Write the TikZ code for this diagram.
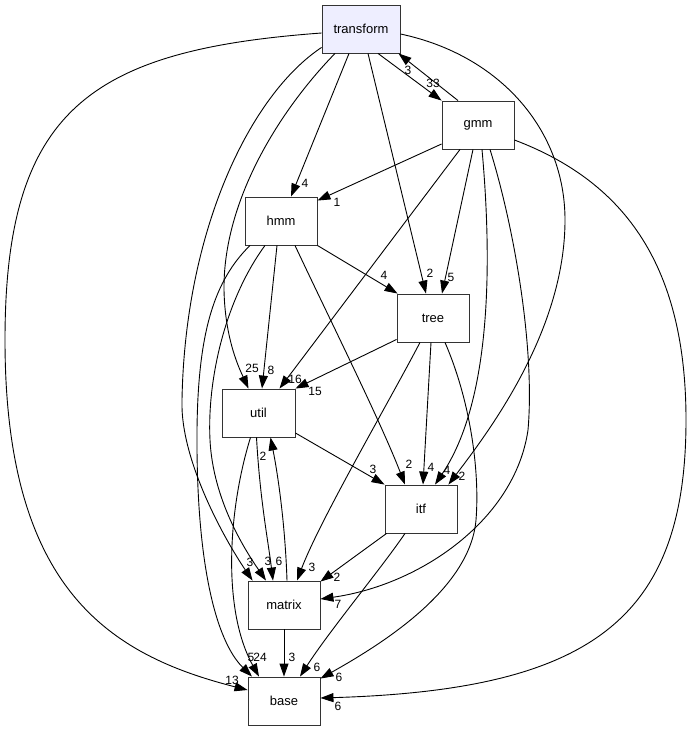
\documentclass[tikz,border=0pt]{standalone}
\usepackage{fontspec}
\setmainfont{Liberation Sans}
\usetikzlibrary{arrows.meta}
\definecolor{lav}{HTML}{EEEEFF}
\begin{document}
\begin{tikzpicture}[x=1pt,y=-1pt,
 box/.style={draw=black!80, line width=0.9pt, fill=white, minimum width=72pt, minimum height=48pt, inner sep=0pt, font=\fontsize{13}{15}\selectfont},
 edge/.style={draw=black, line width=0.9pt, -{Triangle[length=13pt,width=9pt]}},
 lbl/.style={font=\fontsize{12}{14}\selectfont, inner sep=0pt}]
\useasboundingbox (0,0) rectangle (692,731);
% nodes
\node[box, fill=lav, minimum width=78pt] (transform) at (361,29) {transform};
\node[box] (gmm) at (478,125) {gmm};
\node[box] (hmm) at (281,221) {hmm};
\node[box] (tree) at (433,318) {tree};
\node[box, minimum width=73pt] (util) at (258.5,413) {util};
\node[box] (itf) at (421,509) {itf};
\node[box] (matrix) at (284,605) {matrix};
\node[box] (base) at (284,701) {base};
% edges from transform
\draw[edge] ([xshift=17pt]transform.south) -- (gmm.north west);
\draw[edge] ([xshift=-20pt]gmm.north) -- ([xshift=-2pt]transform.south east);
\draw[edge] ([xshift=-12pt]transform.south) -- ([xshift=10pt]hmm.north);
\draw[edge] ([xshift=7pt]transform.south) -- ([xshift=-7pt]tree.north);
\draw[edge] ([xshift=-26pt]transform.south) .. controls (280,110) and (223,200) .. (224,290) .. controls (225,340) and (240,370) .. ([xshift=-10pt]util.north);
\draw[edge] ([yshift=6pt]transform.south west) .. controls (250,95) and (185,230) .. (182,400) .. controls (180,460) and (225,540) .. ([xshift=5pt]matrix.north west);
\draw[edge] ([yshift=-4pt]transform.west) .. controls (90,50) and (5,110) .. (5,340) .. controls (5,590) and (110,655) .. ([yshift=11pt]base.west);
\draw[edge] ([yshift=-5pt]transform.east) .. controls (500,55) and (565,130) .. (565,220) .. controls (565,330) and (490,430) .. ([xshift=-9pt]itf.north east);
% edges from gmm
\draw[edge] ([yshift=-19pt]gmm.west) -- ([yshift=-4pt]hmm.north east);
\draw[edge] ([xshift=-18pt]gmm.south) -- ([xshift=21pt]util.north);
\draw[edge] ([xshift=-5pt]gmm.south) -- ([xshift=9pt]tree.north);
\draw[edge] ([xshift=4pt]gmm.south) .. controls (492,260) and (492,400) .. ([xshift=14pt]itf.north);
\draw[edge] ([xshift=12pt]gmm.south) .. controls (515,230) and (535,350) .. (528,430) .. controls (515,520) and (420,585) .. ([yshift=6pt]matrix.east);
\draw[edge] ([yshift=-15pt]gmm.east) .. controls (620,180) and (686,260) .. (686,420) .. controls (686,620) and (590,690) .. ([yshift=3pt]base.east);
% edges from hmm
\draw[edge] ([xshift=-4pt]hmm.south) -- ([xshift=3.5pt]util.north);
\draw[edge] (hmm.south east) -- ([xshift=1pt]tree.north west);
\draw[edge] ([xshift=14pt]hmm.south) .. controls (330,320) and (380,420) .. ([xshift=-16pt]itf.north);
\draw[edge] ([xshift=-16pt]hmm.south) .. controls (225,300) and (207,380) .. (210,440) .. controls (213,500) and (245,550) .. ([xshift=-18pt]matrix.north);
\draw[edge] ([xshift=-31pt]hmm.south) .. controls (215,280) and (198,330) .. (197,430) .. controls (196,560) and (215,640) .. ([xshift=-32pt]base.north);
% edges from util
\draw[edge] ([xshift=-8pt]util.south) .. controls (228,510) and (222,610) .. ([xshift=-25pt]base.north);
\draw[edge] ([xshift=-2pt]util.south) .. controls (260,500) and (268,540) .. ([xshift=-11pt]matrix.north);
\draw[edge] ([yshift=-20pt]util.east) -- (itf.north west);
% matrix -> util
\draw[edge] ([xshift=3pt]matrix.north) .. controls (285,520) and (277,470) .. ([xshift=12pt]util.south);
% edges from tree
\draw[edge] ([yshift=3pt]tree.south west) -- (util.north east);
\draw[edge] ([xshift=-2pt]tree.south) -- ([xshift=2pt]itf.north);
\draw[edge] ([xshift=-13pt]tree.south) .. controls (390,400) and (320,520) .. ([xshift=13pt]matrix.north);
\draw[edge] ([xshift=12pt]tree.south) .. controls (470,400) and (480,470) .. (476,520) .. controls (470,590) and (380,645) .. ([yshift=-2pt]base.north east);
% edges from itf
\draw[edge] ([xshift=2pt]itf.south west) -- ([yshift=-1pt]matrix.north east);
\draw[edge] ([xshift=-16pt]itf.south) .. controls (380,570) and (330,630) .. ([xshift=16pt]base.north);
% matrix -> base
\draw[edge] (matrix.south) -- (base.north);
% labels
\node[lbl] (l1) at (408,70) {3};
\node[lbl] (l2) at (433,83) {33};
\node[lbl] (l3) at (305,183) {4};
\node[lbl] (l4) at (337,202) {1};
\node[lbl] (l5) at (430,273) {2};
\node[lbl] (l6) at (451,277) {5};
\node[lbl] (l7) at (384,275) {4};
\node[lbl] (l8) at (252,368) {25};
\node[lbl] (l9) at (271,370) {8};
\node[lbl] (l10) at (295,379) {16};
\node[lbl] (l11) at (315,391) {15};
\node[lbl] (l12) at (263,456) {2};
\node[lbl] (l13) at (373,469) {3};
\node[lbl] (l14) at (409,464) {2};
\node[lbl] (l15) at (431,467) {4};
\node[lbl] (l16) at (447,470) {4};
\node[lbl] (l17) at (462,476) {2};
\node[lbl] (l18) at (250,562) {3};
\node[lbl] (l19) at (268,561) {3};
\node[lbl] (l20) at (279,561) {6};
\node[lbl] (l21) at (312,567) {3};
\node[lbl] (l22) at (337,577) {2};
\node[lbl] (l23) at (338,604) {7};
\node[lbl] (l24) at (251,657) {5};
\node[lbl] (l25) at (260,657) {24};
\node[lbl] (l26) at (292,657) {3};
\node[lbl] (l27) at (317,667) {6};
\node[lbl] (l28) at (339,677) {6};
\node[lbl] (l29) at (338,706) {6};
\node[lbl] (l30) at (232,680) {13};
\end{tikzpicture}
\end{document}
